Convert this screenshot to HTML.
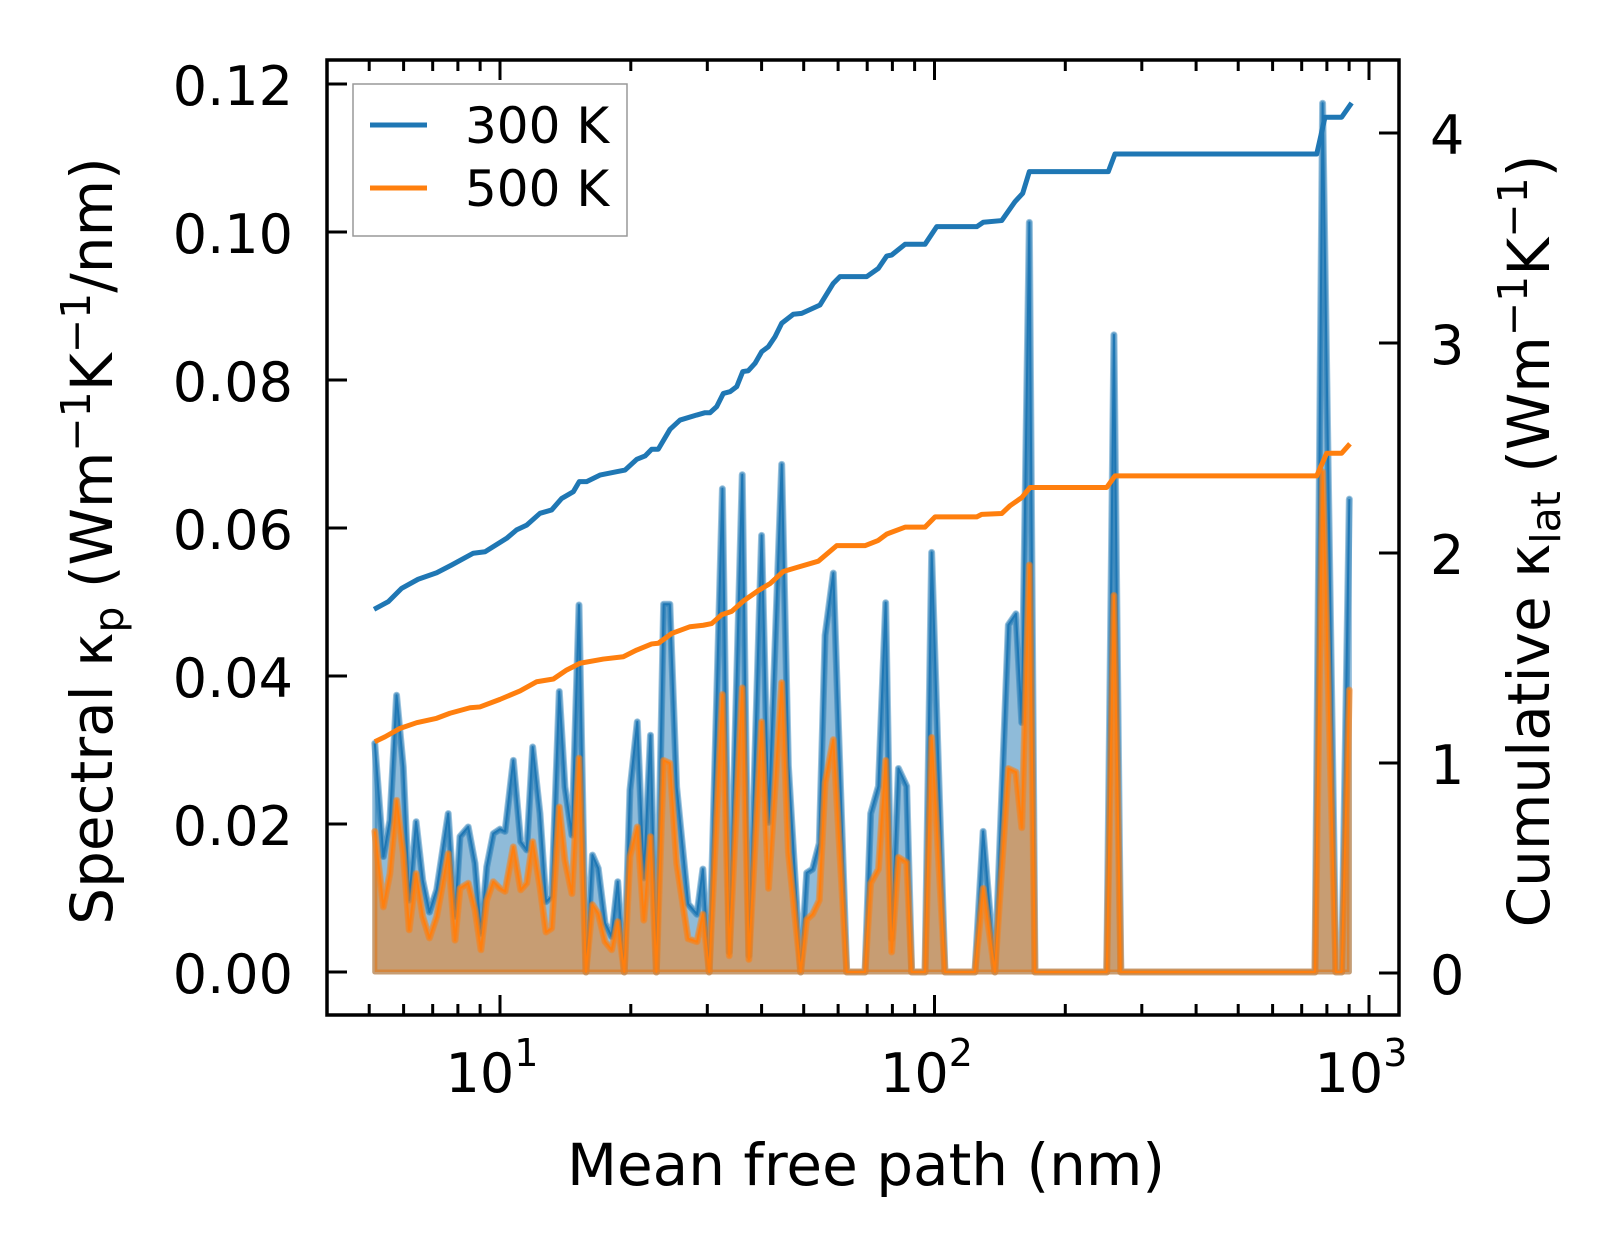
<!DOCTYPE html>
<html><head><meta charset="utf-8"><style>
html,body{margin:0;padding:0;background:#fff;}
svg{display:block;font-family:"DejaVu Sans","Liberation Sans",sans-serif;}
</style></head><body>
<svg id="chart" width="1623" height="1254" viewBox="0 0 1623 1254" xmlns="http://www.w3.org/2000/svg">
<rect x="0" y="0" width="1623" height="1254" fill="#fff"/>
<g id="plot"></g>
<g id="axes"></g>
<text x="866" y="1185" font-size="58" text-anchor="middle">Mean free path (nm)</text>
<text transform="translate(112,541) rotate(-90)" font-size="58" text-anchor="middle">Spectral κ<tspan font-size="41" dy="11">p</tspan><tspan dy="-11"> (Wm</tspan><tspan font-size="41" dy="-22">−1</tspan><tspan dy="22">K</tspan><tspan font-size="41" dy="-22">−1</tspan><tspan dy="22">/nm)</tspan></text>
<text transform="translate(1549,541) rotate(-90)" font-size="58" text-anchor="middle">Cumulative κ<tspan font-size="41" dy="11">lat</tspan><tspan dy="-11"> (Wm</tspan><tspan font-size="41" dy="-22">−1</tspan><tspan dy="22">K</tspan><tspan font-size="41" dy="-22">−1</tspan><tspan dy="22">)</tspan></text>
<g>
<rect x="353" y="84" width="274" height="152" fill="#fff" fill-opacity="0.8" stroke="#999" stroke-width="1.5"/>
<line x1="370" y1="125" x2="427" y2="125" stroke="#1f77b4" stroke-width="5"/>
<text x="465" y="143" font-size="50">300 K</text>
<line x1="370" y1="188" x2="427" y2="188" stroke="#ff7f0e" stroke-width="5"/>
<text x="465" y="206" font-size="50">500 K</text>
</g>
</svg>
<script>
const mfp = [5.15,5.39,5.58,5.78,5.99,6.18,6.41,6.64,6.88,7.15,7.60,7.88,8.09,8.45,8.76,9.04,9.32,9.65,10.0,10.27,10.73,11.16,11.52,11.89,12.36,12.76,13.15,13.69,14.11,14.64,15.20,15.77,16.32,16.83,17.45,18.07,18.66,19.32,19.91,20.7,21.43,22.2,22.9,23.8,24.6,25.5,27.1,28.4,29.3,30.3,32.5,33.7,36.1,37.4,40.0,41.5,44.5,46.1,49.2,50.8,52.4,54.3,56.0,58.5,62.8,69.2,71.3,74.3,77.2,79.7,82.6,86.3,88.6,95.1,98.5,105.7,123.9,129.4,137.7,147.9,154.0,158.8,165.3,170.3,249.1,258.8,268.4,751,782,839,865,901];
const spec300 = [.0309,.0156,.0205,.0374,.0277,.0097,.0203,.0124,.0081,.0111,.0214,.0075,.0183,.0196,.0147,.0052,.0142,.0187,.0193,.0190,.0286,.0176,.0165,.0304,.0214,.0095,.0102,.0379,.0250,.0185,.0496,0,.0158,.0140,.0066,.0048,.0122,0,.0246,.0338,.0127,.0320,0,.0497,.0497,.0250,.0092,.0078,.0139,0,.0653,.0027,.0672,.0022,.0590,.0202,.0686,.0279,0,.0134,.0139,.0174,.0455,.0539,0,0,.0214,.0251,.0499,.0045,.0275,.0251,0,0,.0567,0,0,.0190,0,.0469,.0484,.0337,.1013,0,0,.0861,0,0,.1174,0,0,.0639];
const spec500 = [.0190,.0088,.0133,.0232,.0160,.0057,.0133,.0075,.0046,.0075,.0160,.0043,.0113,.0120,.0084,.0030,.0097,.0122,.0113,.0109,.0169,.0111,.0120,.0176,.0115,.0054,.0059,.0223,.0151,.0106,.0289,0,.0091,.0079,.0041,.0030,.0068,0,.0156,.0196,.0070,.0183,0,.0286,.0282,.0147,.0045,.0041,.0078,0,.0375,.0022,.0384,.0017,.0338,.0113,.0391,.0162,0,.0071,.0078,.0097,.0256,.0314,0,0,.0120,.0139,.0286,.0027,.0155,.0148,0,0,.0317,0,0,.0113,0,.0275,.0270,.0195,.0550,0,0,.0509,0,0,.0676,0,0,.0381];
const cumX300 = [5.13,5.53,5.94,6.48,7.15,7.74,8.68,9.24,10.36,10.92,11.52,12.36,13.15,13.87,14.75,15.22,15.83,16.98,18.56,19.40,20.64,21.57,22.34,23.13,24.62,25.96,28.36,29.64,30.43,31.53,32.66,33.83,35.06,36.20,37.28,38.63,40.03,41.45,42.95,44.50,47.32,49.47,54.52,58.49,60.60,69.82,74.24,77.62,79.70,85.53,95.08,101.2,125.1,129.5,142.8,153.2,159.6,165.3,251.2,260.2,758,792,865,912];
const cum300 = [1.732,1.768,1.832,1.875,1.906,1.943,1.999,2.006,2.070,2.110,2.133,2.189,2.205,2.260,2.292,2.340,2.340,2.371,2.387,2.395,2.446,2.462,2.494,2.494,2.589,2.633,2.657,2.668,2.668,2.697,2.760,2.768,2.792,2.864,2.868,2.903,2.959,2.982,3.030,3.094,3.137,3.141,3.181,3.284,3.316,3.316,3.355,3.414,3.419,3.470,3.470,3.554,3.554,3.575,3.583,3.673,3.713,3.816,3.816,3.900,3.900,4.075,4.075,4.143];
const cumX500 = [5.15,5.44,5.89,6.43,7.15,7.67,8.53,8.99,10.0,11.12,12.15,13.27,14.24,15.28,17.29,19.22,20.64,22.34,23.13,24.85,27.37,29.37,30.71,32.37,34.14,36.31,39.31,41.82,44.87,48.18,54.03,59.56,69.18,74.24,77.62,85.53,95.08,100.3,125.1,128.4,142.8,149.2,158.8,165.9,249.1,260.2,758,799,865,904];
const cum500 = [1.101,1.125,1.165,1.192,1.213,1.237,1.263,1.267,1.303,1.343,1.387,1.400,1.443,1.475,1.495,1.506,1.538,1.567,1.570,1.617,1.649,1.656,1.664,1.706,1.722,1.771,1.821,1.854,1.912,1.931,1.961,2.035,2.035,2.060,2.090,2.123,2.123,2.172,2.172,2.184,2.188,2.225,2.264,2.312,2.312,2.367,2.367,2.475,2.475,2.520];
const leftTicks = [0,0.02,0.04,0.06,0.08,0.10,0.12];
const leftTickLabels = ["0.00","0.02","0.04","0.06","0.08","0.10","0.12"];
const rightTicks = [0,1,2,3,4];
const xDecades = [1,2,3];

const NS="http://www.w3.org/2000/svg";
const L=327,R=1399,T=60,B=1015;
function X(v){return 500+(Math.log10(v)-1)*434.5;}
function YL(v){return 972-v*7400;}
function YR(v){return 973-v*210;}
function mk(tag,attrs,parent){const e=document.createElementNS(NS,tag);for(const k in attrs)e.setAttribute(k,attrs[k]);parent.appendChild(e);return e;}
const plot=document.getElementById('plot'), axes=document.getElementById('axes');
const clip=mk('clipPath',{id:'cp'},plot);mk('rect',{x:L,y:T,width:R-L,height:B-T},clip);
const g=mk('g',{'clip-path':'url(#cp)'},plot);

function linePts(xs,ys,fy){return xs.map((x,i)=>X(x).toFixed(2)+','+fy(ys[i]).toFixed(2)).join(' ');}
function drawSpec(vals,color,name){
  const pts=linePts(mfp,vals,YL);
  const area=mk('polygon',{points:X(mfp[0]).toFixed(2)+','+YL(0)+' '+pts+' '+X(mfp[mfp.length-1]).toFixed(2)+','+YL(0),fill:color,'fill-opacity':0.5,stroke:color,'stroke-opacity':0.5,'stroke-width':5,'stroke-linejoin':'round'},g);
  
  
  const thick=mk('polyline',{points:pts,fill:'none',stroke:color,'stroke-opacity':0.45,'stroke-width':7,'stroke-linejoin':'round','stroke-linecap':'round'},g);
  
  
  const thin=mk('polyline',{points:pts,fill:'none',stroke:color,'stroke-width':2,'stroke-linejoin':'round'},g);
  
  
}
drawSpec(spec300,'#1f77b4','spectral-300k');
drawSpec(spec500,'#ff7f0e','spectral-500k');
const c3=mk('polyline',{points:linePts(cumX300,cum300,YR),fill:'none',stroke:'#1f77b4','stroke-width':5,'stroke-linejoin':'round'},g);


const c5=mk('polyline',{points:linePts(cumX500,cum500,YR),fill:'none',stroke:'#ff7f0e','stroke-width':5,'stroke-linejoin':'round'},g);



const fr=mk('rect',{x:L,y:T,width:R-L,height:B-T,fill:'none',stroke:'#000','stroke-width':3.5},axes);


function tick(x1,y1,x2,y2,name){const t=mk('line',{x1,y1,x2,y2,stroke:'#000','stroke-width':3},axes);}
for(let d=0; d<=3; d++){
  for(let m=1;m<=9;m++){
    const v=m*Math.pow(10,d); const x=X(v);
    if(x<L+2||x>R-2) continue;
    const len=(m===1)?20:11;
    tick(x,B,x,B-len,'x-tick');
    tick(x,T,x,T+len,'x-tick-top');
  }
}
xDecades.forEach(d=>{
  const x=X(Math.pow(10,d));
  const t=mk('text',{x:x-8,y:1092,'font-size':54,'text-anchor':'middle'},axes);
  
  
  t.textContent='10';
  const s=mk('tspan',{dy:-26,'font-size':38},t);s.textContent=String(d);
});
leftTicks.forEach((v,i)=>{
  const y=YL(v);
  tick(L,y,L+20,y,'y-left-tick');
  const t=mk('text',{x:293,y:y+21,'font-size':54,'text-anchor':'end'},axes);
  
  
  t.textContent=leftTickLabels[i];
});
rightTicks.forEach(v=>{
  const y=YR(v);
  tick(R,y,R-20,y,'y-right-tick');
  const t=mk('text',{x:1430,y:y+21,'font-size':54},axes);
  
  
  t.textContent=String(v);
});
</script>
</body></html>
